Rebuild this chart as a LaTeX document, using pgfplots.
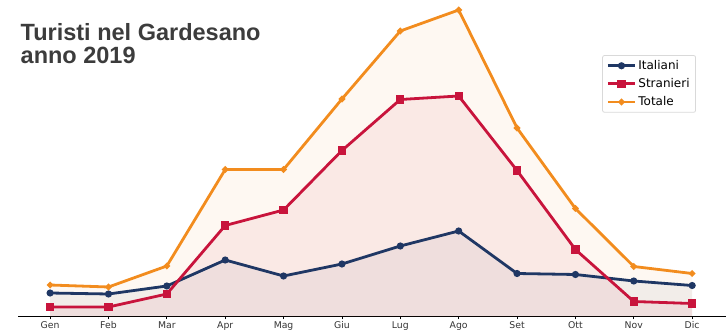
\documentclass[border=0pt]{standalone}
\usepackage{pgfplots}
\pgfplotsset{compat=1.18}
\usepackage{fontspec}
\setmainfont{DejaVu Sans}
\newfontfamily\titlefont{Liberation Sans}

\definecolor{ita}{HTML}{1F3764}
\definecolor{str}{HTML}{C8143C}
\definecolor{tot}{HTML}{F28C1E}
\definecolor{titlegray}{HTML}{3C3C3C}

% Monthly tourists (thousands)
\pgfplotstableread{
x  ita   str    tot
0  23.5  9.5    31.5
1  22.5  9.5    29.5
2  30.5  22.5   50.5
3  56.5  91.0   147.0
4  40.5  106.5  147.0
5  52.5  166.0  217.5
6  70.5  217.0  285.5
7  85.5  220.5  306.5
8  43.0  146.0  188.5
9  42.0  67.0   108.0
10 35.5  15.0   50.0
11 31.0  13.0   43.0
}\turisti

\begin{document}
\begin{tikzpicture}[x=1pt,y=1pt]
\useasboundingbox (0,0) rectangle (728,332);
\begin{axis}[
  at={(18pt,15.5pt)}, anchor=south west,
  scale only axis, width=708pt, height=316.5pt,
  xmin=-0.55, xmax=11.58, ymin=0, ymax=316.5,
  axis x line=bottom, axis y line=none,
  x axis line style={-, line width=1.4pt, black},
  xtick={0,...,11},
  xticklabels={Gen,Feb,Mar,Apr,Mag,Giu,Lug,Ago,Set,Ott,Nov,Dic},
  ytick=\empty,
  tick align=outside, major tick length=3pt,
  tick style={black, line width=0.8pt},
  xticklabel style={font=\fontsize{9.3}{10}\selectfont, text=black!80, yshift=1.5pt},
  clip=false,
  legend style={at={(0.9576,0.826)}, anchor=north east,
    draw=black!15, rounded corners=2pt, line width=0.8pt,
    font=\fontsize{12}{14}\selectfont,
    inner xsep=4pt, inner ysep=3pt, row sep=3.5pt},
  legend cell align=left,
  legend image code/.code={
    \draw[mark repeat=2, mark phase=2] plot coordinates {(0pt,0pt) (13.5pt,0pt) (27pt,0pt)};
  },
]
% translucent areas under each series
\addplot[draw=none, fill=ita, fill opacity=0.06, forget plot] table[x=x, y=ita] {\turisti} \closedcycle;
\addplot[draw=none, fill=str, fill opacity=0.07, forget plot] table[x=x, y=str] {\turisti} \closedcycle;
\addplot[draw=none, fill=tot, fill opacity=0.06, forget plot] table[x=x, y=tot] {\turisti} \closedcycle;
% lines
\addplot[ita, line width=2.8pt, mark=*, mark size=2.1pt] table[x=x, y=ita] {\turisti};
\addlegendentry{Italiani}
\addplot[str, line width=2.8pt, mark=square*, mark size=2.7pt] table[x=x, y=str] {\turisti};
\addlegendentry{Stranieri}
\addplot[tot, line width=2.8pt, mark=*, mark size=1.6pt] table[x=x, y=tot] {\turisti};
\addlegendentry{Totale}
\end{axis}
\node[anchor=base west, text=titlegray, align=left, font=\titlefont\bfseries\fontsize{23.5}{22.6}\selectfont, inner sep=0pt]
  at (20.5,268.7) {Turisti nel Gardesano\\anno 2019};
\end{tikzpicture}
\end{document}
